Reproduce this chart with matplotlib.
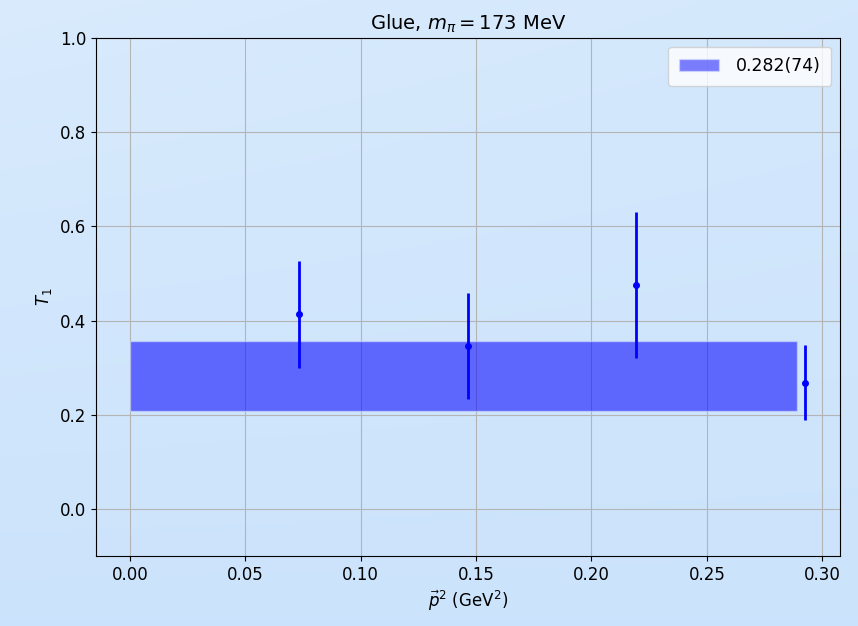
import numpy as np
import matplotlib
matplotlib.use("Agg")
import matplotlib.pyplot as plt

# data
p2 = [0.0731, 0.1465, 0.2194, 0.2927]
T1 = [0.413, 0.346, 0.476, 0.268]
T1_err = [0.113, 0.113, 0.155, 0.080]

band_x = [0.0, 0.289]
band_mean = 0.282
band_err = 0.074
band_label = "0.282(74)"

plt.rcParams['font.family'] = 'DejaVu Sans'
plt.rcParams['font.size'] = 12

fig = plt.figure(figsize=(8.58, 6.26), dpi=100)

# soft blue background
bg = fig.add_axes([0, 0, 1, 1], zorder=-10)
yy, xx = np.mgrid[0:1:200j, 0:1:200j]
shade = 0.6 * yy + 0.4 * xx * (1 - yy) * 0.5
top = np.array([0.85, 0.92, 0.99])
low = np.array([0.76, 0.87, 0.985])
img = top[None, None, :] * (1 - shade[..., None]) + low[None, None, :] * shade[..., None]
bg.imshow(np.clip(img, 0, 1), aspect='auto', extent=[0, 1, 0, 1], origin='upper')
bg.axis('off')

ax = fig.add_axes([0.112, 0.112, 0.867, 0.827])
ax.set_facecolor('none')

ax.fill_between(band_x, band_mean - band_err, band_mean + band_err,
                color='blue', alpha=0.55, linewidth=1, edgecolor='#d8e4ff',
                label=band_label)
ax.errorbar(p2, T1, yerr=T1_err, fmt='o', color='blue', markersize=4,
            elinewidth=2, capsize=0)

ax.set_ylim(-0.1, 1.0)
ax.set_xlim(-0.0147, 0.3077)
ax.grid(True, color='#b4b4b4')
ax.set_axisbelow(True)

ax.set_title(r"Glue, $m_\pi = 173$ MeV", fontsize=14)
ax.set_ylabel(r"$T_1$")
ax.set_xlabel(r"$\vec{p}^2$ (GeV$^2$)")
leg = ax.legend(loc='upper right', fontsize=12.5, handlelength=2.3,
                handletextpad=1.0, borderpad=0.6)
for h in leg.legend_handles:
    h.set_alpha(0.5)

fig.savefig("out.png", dpi=100)
